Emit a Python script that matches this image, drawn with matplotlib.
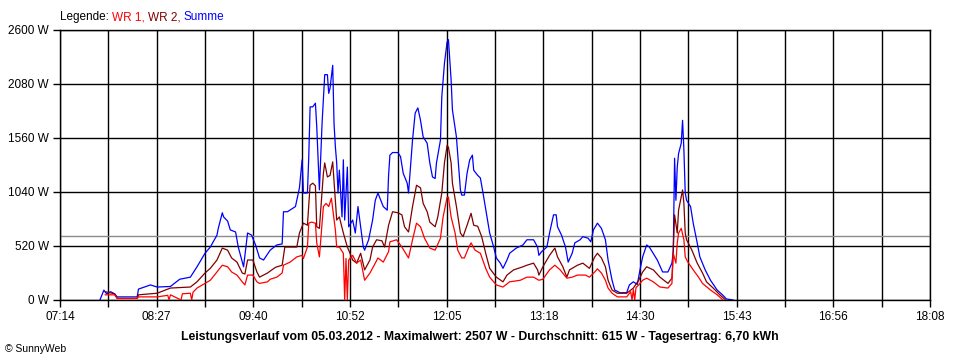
import numpy as np
import matplotlib
matplotlib.use("Agg")
import matplotlib.pyplot as plt

plt.rcParams['font.family'] = ['Liberation Sans', 'DejaVu Sans']

# Summe (blue)
summe_t = ["07:44","07:47","07:49","07:52","07:55","07:57","08:12","08:13","08:22","08:27",
           "08:37","08:44","08:52","08:54","08:57","09:03","09:07","09:12","09:13","09:16",
           "09:17","09:20","09:22","09:26","09:28","09:32","09:35","09:38","09:41","09:44",
           "09:47","09:52","09:57","10:01","10:02","10:05","10:11","10:12","10:14","10:16",
           "10:17","10:20","10:21","10:22","10:24","10:26","10:27","10:29","10:31","10:33",
           "10:35","10:36","10:37","10:39","10:40","10:41","10:42","10:43","10:44","10:46",
           "10:47","10:48","10:50","10:51","10:54","10:56","10:58","11:00","11:02","11:03",
           "11:06","11:09","11:11","11:13","11:17","11:20","11:21","11:22","11:24","11:28",
           "11:30","11:32","11:35","11:36","11:39","11:41","11:43","11:45","11:47","11:50",
           "11:52","11:54","11:56","11:57","12:00","12:01","12:03","12:05","12:06","12:07",
           "12:08","12:09","12:12","12:15","12:16","12:18","12:20","12:22","12:24","12:25",
           "12:28","12:30","12:32","12:35","12:37","12:40","12:42","12:45","12:47","12:50",
           "12:52","12:57","13:02","13:05","13:10","13:13","13:14","13:16","13:20","13:22",
           "13:25","13:27","13:28","13:31","13:34","13:36","13:39","13:41","13:45","13:47",
           "13:51","13:53","13:55","13:58","14:01","14:04","14:06","14:09","14:11","14:15",
           "14:20","14:22","14:25","14:28","14:30","14:32","14:35","14:37","14:43","14:47",
           "14:51","14:54","14:55","14:56","14:57","14:58","14:59","15:01","15:02","15:03",
           "15:04","15:05","15:08","15:10","15:13","15:15","15:19","15:23","15:28","15:32",
           "15:35","15:40"]
summe_w = [0,95,60,80,60,30,30,105,145,125,
           130,200,220,260,320,450,510,625,690,840,
           800,760,675,655,510,320,645,625,530,405,
           385,480,530,540,850,850,900,960,1080,1350,
           1030,1030,1380,1860,1860,1895,1670,1060,1700,2170,
           2170,1990,2040,2260,1700,1475,1320,1030,1250,800,
           1350,770,1280,705,770,645,900,705,510,480,
           580,770,960,1030,900,865,1200,1395,1420,1420,
           1380,1220,1125,1030,1540,1800,1850,1730,1570,1510,
           1320,1185,1170,1320,1540,1955,2280,2485,2507,2310,
           2120,1830,1570,1060,1010,1010,1220,1350,1395,1250,
           1200,1175,1030,800,645,510,405,355,305,385,
           450,500,530,580,580,510,430,465,510,645,
           820,820,705,625,510,365,450,550,580,610,
           595,560,675,740,690,580,385,190,96,70,
           70,145,175,150,290,415,530,510,385,270,
           270,355,465,1365,960,1280,1410,1510,1730,1445,
           1030,960,900,740,550,415,290,190,96,50,
           10,0]

# WR 2 (dark red)
wr2_t = ["07:48","07:55","07:57","08:12","08:13","08:27","08:37","08:52","08:57","09:03",
         "09:07","09:12","09:16","09:20","09:23","09:27","09:31","09:33","09:35","09:39",
         "09:42","09:44","09:50","09:56","10:01","10:03","10:07","10:12","10:14","10:17",
         "10:20","10:22","10:24","10:26","10:27","10:29","10:32","10:33","10:35","10:37",
         "10:39","10:41","10:42","10:44","10:47","10:50","10:52","10:54","10:57","11:00",
         "11:03","11:07","11:09","11:12","11:16","11:18","11:21","11:24","11:28","11:31",
         "11:33","11:36","11:39","11:42","11:45","11:47","11:50","11:52","11:56","11:58",
         "12:01","12:03","12:05","12:06","12:08","12:09","12:12","12:15","12:17","12:20",
         "12:23","12:25","12:28","12:31","12:34","12:37","12:42","12:47","12:50","12:55",
         "13:02","13:05","13:10","13:13","13:14","13:17","13:22","13:26","13:28","13:32",
         "13:35","13:37","13:43","13:47","13:52","13:56","13:58","14:01","14:04","14:06",
         "14:09","14:13","14:20","14:25","14:29","14:32","14:35","14:40","14:45","14:51",
         "14:54","14:55","14:56","14:58","14:59","15:02","15:03","15:04","15:05","15:09",
         "15:13","15:17","15:20","15:25","15:30","15:34"]
wr2_w = [80,60,15,15,50,65,115,125,175,260,
         305,385,500,480,405,365,260,250,385,385,
         270,220,260,315,335,510,510,510,645,740,
         720,1105,1125,1100,705,690,1220,1320,1185,1200,
         1330,960,770,800,645,510,450,385,355,450,
         290,385,510,580,570,510,720,850,840,820,
         705,655,900,1105,1080,930,850,750,705,800,
         1030,1320,1490,1470,1320,1125,900,645,610,720,
         835,720,710,610,450,305,220,175,240,290,
         320,335,355,290,240,320,430,500,415,320,
         220,290,335,355,305,415,450,405,320,190,
         96,65,65,115,190,270,320,290,220,160,
         210,480,820,645,865,1060,930,645,580,480,
         355,260,175,115,50,5]

# WR 1 (red)
wr1_t = ["07:48","07:55","07:57","08:12","08:13","08:27","08:35","08:36","08:37","08:45",
         "08:46","08:52","08:53","08:54","08:57","09:03","09:07","09:12","09:16","09:20",
         "09:23","09:27","09:31","09:33","09:35","09:39","09:42","09:44","09:50","09:52",
         "09:57","10:01","10:02","10:07","10:12","10:16","10:17","10:20","10:21","10:23",
         "10:26","10:27","10:29","10:32","10:34","10:36","10:38","10:41","10:42","10:44",
         "10:47","10:48","10:49","10:50","10:51","10:54","10:57","11:00","11:03","11:07",
         "11:11","11:13","11:17","11:21","11:22","11:27","11:31","11:36","11:39","11:42",
         "11:45","11:48","11:52","11:56","12:00","12:02","12:05","12:06","12:08","12:11",
         "12:13","12:16","12:18","12:21","12:23","12:26","12:30","12:34","12:37","12:42",
         "12:47","12:52","13:00","13:05","13:10","13:14","13:17","13:22","13:26","13:30",
         "13:35","13:39","13:43","13:49","13:52","13:56","13:58","14:01","14:04","14:06",
         "14:09","14:13","14:20","14:23","14:24","14:25","14:26","14:27","14:29","14:32",
         "14:35","14:40","14:45","14:51","14:54","14:55","14:57","14:58","14:59","15:01",
         "15:03","15:04","15:06","15:10","15:14","15:17","15:23","15:28","15:32"]
wr1_w = [50,50,15,15,30,30,45,0,50,0,
         60,65,0,75,115,160,190,270,335,320,
         270,240,175,145,240,240,175,160,175,200,
         220,260,335,365,415,430,400,510,740,750,
         740,550,415,900,930,900,980,675,510,510,
         450,0,400,0,385,430,355,385,190,260,
         355,405,365,465,560,580,510,405,580,740,
         705,595,500,480,595,800,990,990,800,645,
         480,405,405,500,550,480,450,305,220,145,
         125,175,190,220,220,190,200,290,335,290,
         210,220,240,240,220,270,300,260,190,115,
         65,30,30,80,0,100,0,120,145,190,
         210,175,125,115,160,450,355,550,645,690,
         580,415,365,290,220,160,96,50,5]

avg_w = 615
y_ticks = [0, 520, 1040, 1560, 2080, 2600]
x_tick_labels = ["07:14", "08:27", "09:40", "10:52", "12:05",
                 "13:18", "14:30", "15:43", "16:56", "18:08"]
t_start, t_end = "07:14", "18:08"


def to_min(s):
    h, m = s.split(':')
    return int(h) * 60 + int(m)


x0, x1 = to_min(t_start), to_min(t_end)

fig = plt.figure(figsize=(9.6, 3.6), dpi=100)
ax = fig.add_axes([60/960, 60/360, 870/960, 270/360])

ax.set_xlim(x0, x1)
ax.set_ylim(0, 2600)

x_grid = np.linspace(x0, x1, 19)
ax.set_xticks(x_grid)
ax.set_xticklabels([x_tick_labels[i // 2] if i % 2 == 0 else "" for i in range(19)])
ax.set_yticks(y_ticks)
ax.set_yticklabels([f"{v} W" for v in y_ticks])
ax.tick_params(length=5, width=1, color='black', labelsize=8.5, pad=3)
ax.grid(True, color='black', linewidth=1.0)
ax.set_axisbelow(True)
for sp in ax.spines.values():
    sp.set_linewidth(1.0)

ax.axhline(avg_w, color='#8c8c8c', linewidth=1.0, zorder=1.5)

lw = 0.9
ax.plot([to_min(t) for t in wr2_t], wr2_w, color='#800000', linewidth=lw, zorder=3)
ax.plot([to_min(t) for t in wr1_t], wr1_w, color='#ff0000', linewidth=lw, zorder=4)
ax.plot([to_min(t) for t in summe_t], summe_w, color='#0000ff', linewidth=lw, zorder=2.5)

# legend line with coloured words
parts = [("Legende: ", 'black'), ("WR 1, ", '#ff0000'), ("WR 2, ", '#800000'), ("Summe", '#0000ff')]
fig.canvas.draw()
r = fig.canvas.get_renderer()
xpos = 60
for txt, col in parts:
    t = fig.text(xpos / 960, 1 - 17/360, txt, color=col, fontsize=8.5, va='center', ha='left')
    xpos += t.get_window_extent(r).width

fig.text(0.5, 1 - 337/360,
         "Leistungsverlauf vom 05.03.2012 - Maximalwert: 2507 W - Durchschnitt: 615 W - Tagesertrag: 6,70 kWh",
         ha='center', va='center', fontsize=8.8, fontweight='bold')
fig.text(5/960, 1 - 349/360, "© SunnyWeb", ha='left', va='center', fontsize=7.5)

fig.savefig("out.png", dpi=100, facecolor='white')
